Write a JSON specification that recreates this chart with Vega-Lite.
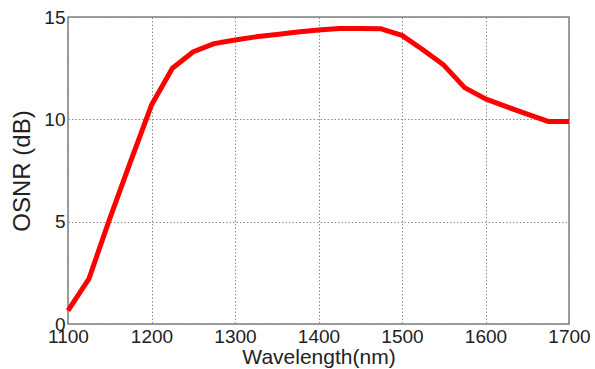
{
  "$schema": "https://vega.github.io/schema/vega-lite/v6.json",
  "width": 501,
  "height": 307,
  "autosize": {"type": "none"},
  "padding": {"left": 68, "top": 17, "right": 26, "bottom": 45},
  "background": "white",
  "config": {
    "view": {"stroke": "#7f7f7f", "strokeWidth": 1.5},
    "font": "Liberation Sans"
  },
  "data": {
    "values": [
      {"wl": 1100, "osnr": 0.65},
      {"wl": 1125, "osnr": 2.2},
      {"wl": 1150, "osnr": 5.15},
      {"wl": 1175, "osnr": 7.95},
      {"wl": 1200, "osnr": 10.7},
      {"wl": 1225, "osnr": 12.5},
      {"wl": 1250, "osnr": 13.3},
      {"wl": 1275, "osnr": 13.7},
      {"wl": 1300, "osnr": 13.88},
      {"wl": 1325, "osnr": 14.03},
      {"wl": 1350, "osnr": 14.15},
      {"wl": 1375, "osnr": 14.27},
      {"wl": 1400, "osnr": 14.36},
      {"wl": 1425, "osnr": 14.44},
      {"wl": 1450, "osnr": 14.44},
      {"wl": 1475, "osnr": 14.42},
      {"wl": 1500, "osnr": 14.1},
      {"wl": 1525, "osnr": 13.4},
      {"wl": 1550, "osnr": 12.65},
      {"wl": 1575, "osnr": 11.55},
      {"wl": 1600, "osnr": 11.0},
      {"wl": 1625, "osnr": 10.62},
      {"wl": 1650, "osnr": 10.25},
      {"wl": 1675, "osnr": 9.9},
      {"wl": 1700, "osnr": 9.9}
    ]
  },
  "mark": {"type": "line", "color": "#ff0000", "strokeWidth": 5, "strokeJoin": "round", "strokeCap": "butt"},
  "encoding": {
    "x": {
      "field": "wl", "type": "quantitative",
      "scale": {"domain": [1100, 1700], "nice": false, "zero": false},
      "axis": {
        "title": "Wavelength(nm)",
        "values": [1100, 1200, 1300, 1400, 1500, 1600, 1700],
        "format": "d",
        "grid": true, "gridColor": "#8c8c8c", "gridDash": [1.5, 2], "gridWidth": 1, "gridOpacity": 1,
        "domain": false, "ticks": false,
        "labelFontSize": 19, "labelColor": "#222", "labelPadding": 3, "labelFlush": false,
        "titleFontSize": 21, "titleFontWeight": "normal", "titleColor": "#222", "titlePadding": 0
      }
    },
    "y": {
      "field": "osnr", "type": "quantitative",
      "scale": {"domain": [0, 15], "nice": false},
      "axis": {
        "title": "OSNR (dB)",
        "values": [0, 5, 10, 15],
        "grid": true, "gridColor": "#8c8c8c", "gridDash": [1.5, 2], "gridWidth": 1, "gridOpacity": 1,
        "domain": false, "ticks": false,
        "labelFontSize": 19, "labelColor": "#222", "labelPadding": 3, "labelFlush": false,
        "titleFontSize": 24, "titleFontWeight": "normal", "titleColor": "#222", "titlePadding": 9
      }
    }
  }
}
